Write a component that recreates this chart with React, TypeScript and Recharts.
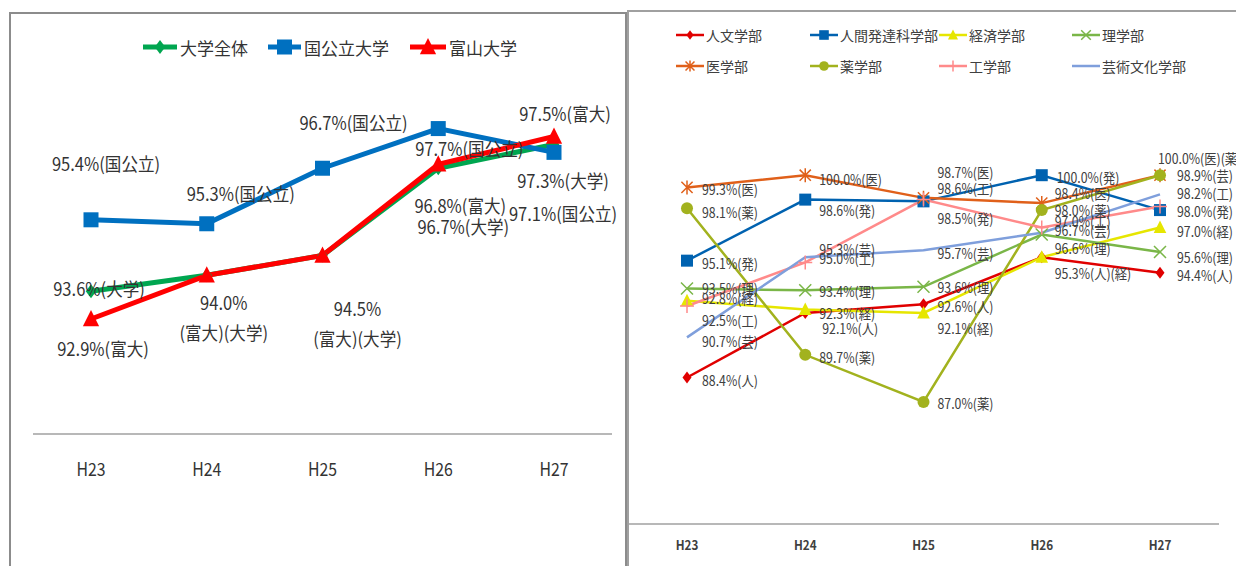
import React from 'react';
import { LineChart, Line, XAxis, YAxis, LabelList, Legend } from 'recharts';

const FONT = '"Noto Sans CJK JP", "Noto Sans", sans-serif';

const years = ['H23', 'H24', 'H25', 'H26', 'H27'];

// left chart: 大学全体 / 国公立大学 / 富山大学
const allUniv = [93.6, 94.0, 94.5, 96.7, 97.3];
const national = [95.4, 95.3, 96.7, 97.7, 97.1];
const toyama = [92.9, 94.0, 94.5, 96.8, 97.5];

const allUnivTags = ['(大学)', '\n(富大)(大学)', '\n(富大)(大学)', '(大学)', '(大学)'];
const nationalTags = ['(国公立)', '(国公立)', '(国公立)', '(国公立)', '(国公立)'];
const toyamaTags = ['(富大)', null, null, '(富大)', '(富大)'];

// right chart: faculties
const jinbun = [88.4, 92.1, 92.6, 95.3, 94.4];
const hattatsu = [95.1, 98.6, 98.5, 100.0, 98.0];
const keizai = [92.8, 92.3, 92.1, 95.3, 97.0];
const rigaku = [93.5, 93.4, 93.6, 96.6, 95.6];
const igaku = [99.3, 100.0, 98.7, 98.4, 100.0];
const yakugaku = [98.1, 89.7, 87.0, 98.0, 100.0];
const kougaku = [92.5, 95.0, 98.6, 97.0, 98.2];
const geijutsu = [90.7, 95.3, 95.7, 96.7, 98.9];

const jinbunTags = ['(人)', '(人)', '(人)', '(人)(経)', '(人)'];
const hattatsuTags = ['(発)', '(発)', '(発)', '(発)', '(発)'];
const keizaiTags = ['(経)', '(経)', '(経)', null, '(経)'];
const rigakuTags = ['(理)', '(理)', '(理)', '(理)', '(理)'];
const igakuTags = ['(医)', '(医)', '(医)', '(医)', '(医)(薬)'];
const yakugakuTags = ['(薬)', '(薬)', '(薬)', '(薬)', null];
const kougakuTags = ['(工)', '(工)', '(工)', '(工)', '(工)'];
const geijutsuTags = ['(芸)', '(芸)', '(芸)', '(芸)', '(芸)'];

const leftData = years.map((year, i) => ({ year, all: allUniv[i], nat: national[i], toy: toyama[i] }));
const rightData = years.map((year, i) => ({
  year,
  jin: jinbun[i], hat: hattatsu[i], kei: keizai[i], ri: rigaku[i],
  i: igaku[i], yaku: yakugaku[i], kou: kougaku[i], gei: geijutsu[i],
}));

// label offsets from the point (left: centre of text, right: start of text)
type Pos = [number, number];
const allUnivPos: Pos[] = [[8, -4], [17, 26], [35, 52], [25, 57], [9, 35]];
const nationalPos: Pos[] = [[15, -57], [34, -31], [31, -47], [31, 19], [9, 60]];
const toyamaPos: Pos[] = [[12, 29], [0, 0], [0, 0], [22, 40], [11, -24]];

const jinbunPos: Pos[] = [[15, 2], [17, 15], [14, 1], [13, 15], [17, 2]];
const hattatsuPos: Pos[] = [[15, 2], [14, 10], [14, 16], [15, 1], [17, 1]];
const keizaiPos: Pos[] = [[15, -3], [14, 3], [14, 15], [0, 0], [17, 3]];
const rigakuPos: Pos[] = [[15, -1], [14, 0], [14, 0], [13, 13], [17, 5]];
const igakuPos: Pos[] = [[15, 1], [14, 3], [14, -26], [13, -10], [-2, -18]];
const yakugakuPos: Pos[] = [[15, 3], [14, 2], [14, 1], [13, 0], [0, 0]];
const kougakuPos: Pos[] = [[15, 14], [14, -5], [14, -12], [13, -7], [17, -14]];
const geijutsuPos: Pos[] = [[15, 3], [14, -9], [14, 2], [13, -3], [17, -20]];

type Kind = 'diamond' | 'square' | 'triangle' | 'circle' | 'x' | 'star' | 'plus' | 'none';

function Marker({ kind, color, s, cx, cy }: { kind: Kind; color: string; s: number; cx: number; cy: number }) {
  switch (kind) {
    case 'diamond':
      return <polygon points={`${cx},${cy - s} ${cx + s * 0.75},${cy} ${cx},${cy + s} ${cx - s * 0.75},${cy}`} fill={color} />;
    case 'square':
      return <rect x={cx - s} y={cy - s} width={2 * s} height={2 * s} fill={color} />;
    case 'triangle':
      return <polygon points={`${cx},${cy - s} ${cx + s * 0.9},${cy + s * 0.8} ${cx - s * 0.9},${cy + s * 0.8}`} fill={color} />;
    case 'circle':
      return <circle cx={cx} cy={cy} r={s} fill={color} />;
    case 'x':
      return <path d={`M${cx - s},${cy - s}L${cx + s},${cy + s}M${cx - s},${cy + s}L${cx + s},${cy - s}`} stroke={color} strokeWidth={1.5} fill="none" />;
    case 'star':
      return <path d={`M${cx - s * 0.8},${cy - s * 0.8}L${cx + s * 0.8},${cy + s * 0.8}M${cx - s * 0.8},${cy + s * 0.8}L${cx + s * 0.8},${cy - s * 0.8}M${cx},${cy - s}L${cx},${cy + s}`} stroke={color} strokeWidth={1.5} fill="none" />;
    case 'plus':
      return <path d={`M${cx - s},${cy}L${cx + s},${cy}M${cx},${cy - s}L${cx},${cy + s}`} stroke={color} strokeWidth={1.5} fill="none" />;
    default:
      return null;
  }
}

const dotOf = (kind: Kind, color: string, s: number) => (p: any) => (
  <Marker key={`m-${p.index}`} kind={kind} color={color} s={s} cx={p.cx} cy={p.cy} />
);

// condensed text, like the narrow face of the original
const Squeezed = ({ x, y, sx, anchor, size, fill, weight, lines }: any) => (
  <text
    transform={`translate(${x},${y}) scale(${sx},1)`}
    x={0}
    y={0}
    textAnchor={anchor}
    dominantBaseline="central"
    fontSize={size}
    fontFamily={FONT}
    fontWeight={weight}
    fill={fill}
  >
    {lines.map((t: string, k: number) => (
      <tspan key={k} x={0} dy={k === 0 ? 0 : 30}>{t}</tspan>
    ))}
  </text>
);

const leftLabel = (tags: (string | null)[], pos: Pos[]) => (props: any) => {
  const i = props.index;
  const tag = tags[i];
  if (tag == null) return null;
  const x = (props.x ?? props.viewBox?.x) + pos[i][0];
  const y = (props.y ?? props.viewBox?.y) + pos[i][1];
  const lines = `${Number(props.value).toFixed(1)}%${tag}`.split('\n');
  return <Squeezed x={x} y={y} sx={0.92} anchor="middle" size={18} fill="#333" lines={lines} />;
};

const rightLabel = (tags: (string | null)[], pos: Pos[]) => (props: any) => {
  const i = props.index;
  const tag = tags[i];
  if (tag == null) return null;
  const x = (props.x ?? props.viewBox?.x) + pos[i][0];
  const y = (props.y ?? props.viewBox?.y) + pos[i][1];
  return <Squeezed x={x} y={y} sx={0.88} anchor="start" size={14} fill="#404040" lines={[`${Number(props.value).toFixed(1)}%${tag}`]} />;
};

const leftTick = (p: any) => (
  <Squeezed x={p.x} y={p.y + 6} sx={0.88} anchor="middle" size={18} fill="#333" lines={[p.payload.value]} />
);
const rightTick = (p: any) => (
  <Squeezed x={p.x} y={p.y + 5} sx={0.9} anchor="middle" size={13} fill="#404040" weight="bold" lines={[p.payload.value]} />
);

const leftSeries = [
  { key: 'all', name: '大学全体', color: '#00a650', kind: 'diamond' as Kind, s: 7, tags: allUnivTags, pos: allUnivPos, legendX: 143, lineW: 34 },
  { key: 'nat', name: '国公立大学', color: '#0070c0', kind: 'square' as Kind, s: 7.5, tags: nationalTags, pos: nationalPos, legendX: 268, lineW: 33 },
  { key: 'toy', name: '富山大学', color: '#ff0000', kind: 'triangle' as Kind, s: 9, tags: toyamaTags, pos: toyamaPos, legendX: 410, lineW: 36 },
];

const rightSeries = [
  { key: 'jin', name: '人文学部', color: '#e00000', kind: 'diamond' as Kind, s: 6, tags: jinbunTags, pos: jinbunPos, col: 0, row: 0 },
  { key: 'hat', name: '人間発達科学部', color: '#0062b0', kind: 'square' as Kind, s: 6, tags: hattatsuTags, pos: hattatsuPos, col: 1, row: 0 },
  { key: 'kei', name: '経済学部', color: '#e6e600', kind: 'triangle' as Kind, s: 7, tags: keizaiTags, pos: keizaiPos, col: 2, row: 0 },
  { key: 'ri', name: '理学部', color: '#7ab648', kind: 'x' as Kind, s: 6, tags: rigakuTags, pos: rigakuPos, col: 3, row: 0 },
  { key: 'i', name: '医学部', color: '#e0601a', kind: 'star' as Kind, s: 7, tags: igakuTags, pos: igakuPos, col: 0, row: 1 },
  { key: 'yaku', name: '薬学部', color: '#a2b21e', kind: 'circle' as Kind, s: 6, tags: yakugakuTags, pos: yakugakuPos, col: 1, row: 1 },
  { key: 'kou', name: '工学部', color: '#ff8a8a', kind: 'plus' as Kind, s: 7, tags: kougakuTags, pos: kougakuPos, col: 2, row: 1 },
  { key: 'gei', name: '芸術文化学部', color: '#7f9fdc', kind: 'none' as Kind, s: 0, tags: geijutsuTags, pos: geijutsuPos, col: 3, row: 1 },
];

const rightCols = [48, 182, 311, 444];
const rightRows = [35, 66];

const LeftLegend = () => (
  <div style={{ position: 'relative', width: 630, height: 80 }}>
    {leftSeries.map((s) => (
      <div key={s.key} style={{ position: 'absolute', left: s.legendX, top: 35, height: 24, display: 'flex', alignItems: 'center' }}>
        <svg width={s.lineW} height={24}>
          <line x1={0} y1={12} x2={s.lineW} y2={12} stroke={s.color} strokeWidth={5} />
          <Marker kind={s.kind} color={s.color} s={s.s} cx={s.lineW / 2} cy={12} />
        </svg>
        <span style={{ marginLeft: 3, fontSize: 17, fontFamily: FONT, color: '#333', whiteSpace: 'nowrap' }}>{s.name}</span>
      </div>
    ))}
  </div>
);

const RightLegend = () => (
  <div style={{ position: 'relative', width: 608, height: 80 }}>
    {rightSeries.map((s) => (
      <div key={s.key} style={{ position: 'absolute', left: rightCols[s.col], top: rightRows[s.row] - 10, height: 20, display: 'flex', alignItems: 'center' }}>
        <svg width={28} height={20}>
          <line x1={0} y1={10} x2={28} y2={10} stroke={s.color} strokeWidth={2.5} />
          <Marker kind={s.kind} color={s.color} s={s.s * 0.8} cx={14} cy={10} />
        </svg>
        <span style={{ marginLeft: 2, fontSize: 14, fontFamily: FONT, color: '#404040', whiteSpace: 'nowrap' }}>{s.name}</span>
      </div>
    ))}
  </div>
);

export default function App() {
  return (
    <div style={{ position: 'absolute', left: 0, top: 0, width: 1236, height: 566, overflow: 'hidden', background: '#fff' }}>
      <div style={{ position: 'absolute', left: 9, top: 12, width: 618, height: 600, border: '2px solid #8c8c8c', boxSizing: 'border-box' }} />
      <div style={{ position: 'absolute', left: 627, top: 10, width: 700, height: 600, border: '2px solid #a0a0a0', boxSizing: 'border-box' }} />

      <div style={{ position: 'absolute', left: 0, top: 0 }}>
        <LineChart width={630} height={566} data={leftData} margin={{ top: 77, right: 18, bottom: 102, left: 33 }}>
          <XAxis
            dataKey="year"
            height={30}
            padding={{ left: 58, right: 58 }}
            axisLine={{ stroke: '#a0a0a0', strokeWidth: 1.5 }}
            tickLine={false}
            tickMargin={22}
            tick={leftTick}
          />
          <YAxis hide width={0} type="number" domain={[90, 99]} allowDataOverflow />
          <Legend
            layout="vertical"
            align="center"
            verticalAlign="middle"
            wrapperStyle={{ left: 0, top: 0, width: 630, height: 80 }}
            content={() => <LeftLegend />}
          />
          {leftSeries.map((s) => (
            <Line
              key={s.key}
              dataKey={s.key}
              name={s.name}
              type="linear"
              stroke={s.color}
              strokeWidth={5}
              dot={dotOf(s.kind, s.color, s.s)}
              activeDot={false}
              isAnimationActive={false}
            >
              <LabelList dataKey={s.key} content={leftLabel(s.tags, s.pos)} />
            </Line>
          ))}
        </LineChart>
      </div>

      <div style={{ position: 'absolute', left: 628, top: 0 }}>
        <LineChart width={608} height={566} data={rightData} margin={{ top: 88, right: 17, bottom: 12, left: 0 }}>
          <XAxis
            dataKey="year"
            height={30}
            padding={{ left: 59, right: 59 }}
            axisLine={{ stroke: '#a0a0a0', strokeWidth: 1.5 }}
            tickLine={false}
            tickMargin={10}
            tick={rightTick}
          />
          <YAxis hide width={0} type="number" domain={[80, 105]} allowDataOverflow />
          <Legend
            layout="vertical"
            align="center"
            verticalAlign="middle"
            wrapperStyle={{ left: 0, top: 0, width: 608, height: 80 }}
            content={() => <RightLegend />}
          />
          {rightSeries.map((s) => (
            <Line
              key={s.key}
              dataKey={s.key}
              name={s.name}
              type="linear"
              stroke={s.color}
              strokeWidth={2.5}
              dot={s.kind === 'none' ? false : dotOf(s.kind, s.color, s.s)}
              activeDot={false}
              isAnimationActive={false}
            >
              <LabelList dataKey={s.key} content={rightLabel(s.tags, s.pos)} />
            </Line>
          ))}
        </LineChart>
      </div>
    </div>
  );
}
